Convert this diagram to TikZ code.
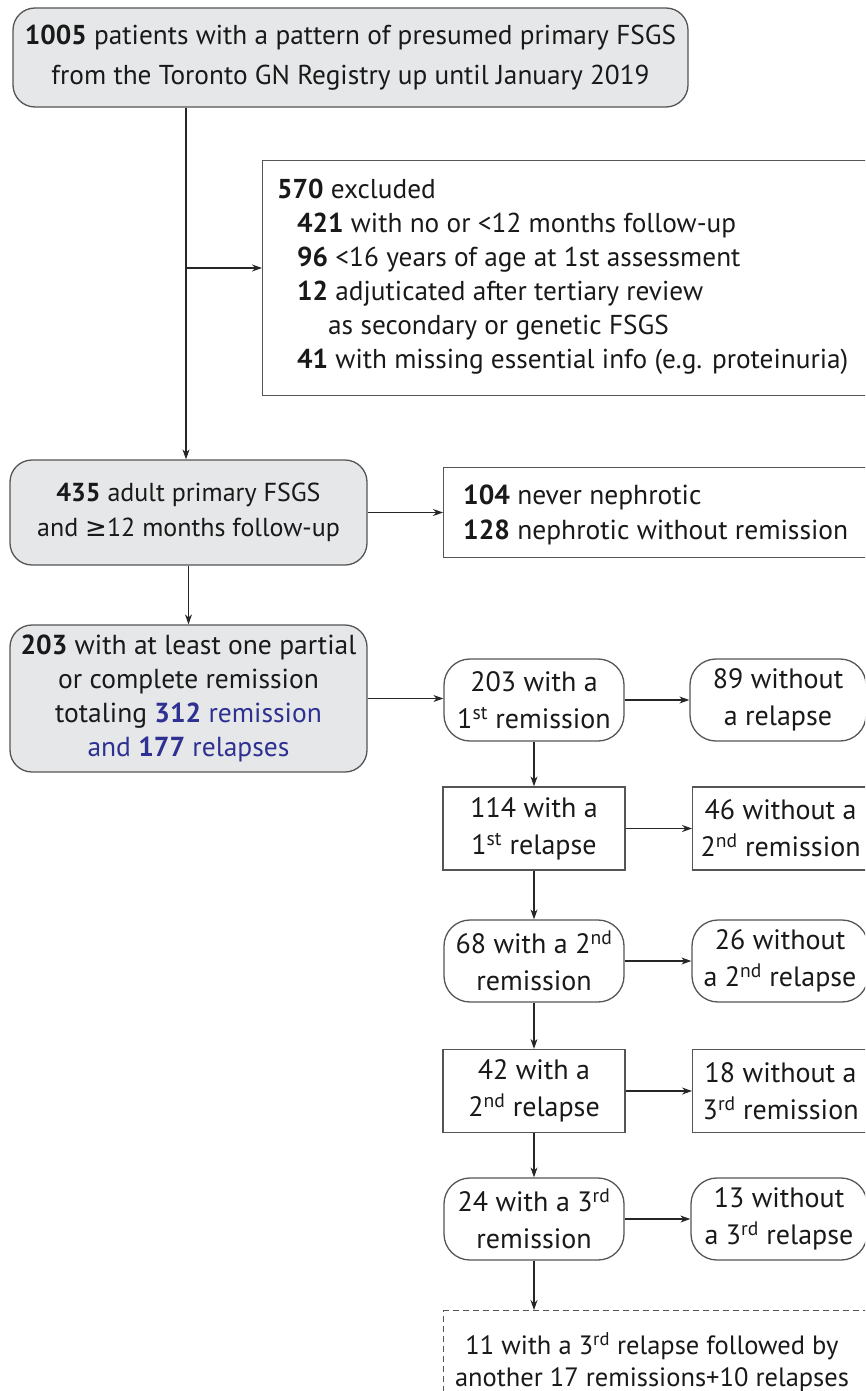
\documentclass[tikz,border=0pt]{standalone}
\usepackage{fontspec}
\setmainfont{PT Sans}
\newfontfamily\symf{DejaVu Sans}
\usetikzlibrary{arrows.meta}
\definecolor{boxgrey}{RGB}{230,231,232}
\definecolor{linegrey}{RGB}{85,85,85}
\definecolor{txtblue}{RGB}{46,49,146}
\begin{document}
\begin{tikzpicture}[x=1pt,y=-1pt,
  box/.style={draw=linegrey, line width=1.3pt, align=center, inner sep=0pt,
    font=\fontsize{28}{37}\selectfont, text=black!90},
  greybox/.style={box, fill=boxgrey, rounded corners=22pt},
  roundbox/.style={box, rounded corners=26pt, minimum height=82pt},
  rectbox/.style={box, minimum height=83pt},
  dashbox/.style={box, dash pattern=on 6pt off 4pt},
  arr/.style={-{Stealth[length=10pt,width=7pt]}, line width=1.1pt, draw=black!85}]
\useasboundingbox (0,0) rectangle (865,1391);
\clip (0,0) rectangle (865,1391);
% top
\node[greybox, minimum width=675pt, minimum height=99pt, font=\fontsize{27.3}{40}\selectfont] (top) at (350.5,57.5)
  {\textbf{1005} patients with a pattern of presumed primary FSGS\\from the Toronto GN Registry up until January 2019};
% excluded
\node[box, minimum width=620pt, minimum height=235pt, anchor=north west] (excl) at (262,160) {};
\node[anchor=north west, align=left, inner sep=0pt, font=\fontsize{27.3}{34}\selectfont, text=black!90] (excltxt) at (277,179)
  {\textbf{570} excluded\\
   \hspace*{20pt}\textbf{421} with no or <12 months follow-up\\
   \hspace*{20pt}\textbf{96} <16 years of age at 1st assessment\\
   \hspace*{20pt}\textbf{12} adjuticated after tertiary review\\
   \hspace*{51pt}as secondary or genetic FSGS\\
   \hspace*{20pt}\textbf{41} with missing essential info (e.g. proteinuria)};
% 435
\node[greybox, minimum width=357pt, minimum height=105pt, font=\fontsize{26}{35}\selectfont] (a435) at (188.5,512.5)
  {\textbf{435} adult primary FSGS\\and {\symf ≥}12 months follow-up};
\node[box, minimum width=440pt, minimum height=90pt, anchor=north west] (nn) at (443,467) {};
\node[anchor=west, align=left, inner sep=0pt, font=\fontsize{27.5}{35}\selectfont, text=black!90] (nntxt) at (463,515)
  {\textbf{104} never nephrotic\\\textbf{128} nephrotic without remission};
% 203
\node[greybox, minimum width=357pt, minimum height=147pt, font=\fontsize{27.5}{34}\selectfont] (r203) at (188.5,698.5)
  {\textbf{203} with at least one partial\\or complete remission\\totaling {\color{txtblue}\textbf{312} remission}\\{\color{txtblue}and \textbf{177} relapses}};
% chain
\node[roundbox, minimum width=180pt] (rem1) at (534,700) {203 with a\\1\textsuperscript{st} remission};
\node[roundbox, minimum width=176pt] (norel1) at (778,700) {89 without\\a relapse};
\node[rectbox, minimum width=182pt] (rel1) at (534,828.5) {114 with a\\1\textsuperscript{st} relapse};
\node[rectbox, minimum width=190pt, anchor=west] (norem2) at (692,828.5) {\hspace*{-14pt}46 without a\\\hspace*{-14pt}2\textsuperscript{nd} remission};
\node[roundbox, minimum width=180pt] (rem2) at (534,961) {68 with a 2\textsuperscript{nd}\\remission};
\node[roundbox, minimum width=176pt] (norel2) at (780,961) {26 without\\a 2\textsuperscript{nd} relapse};
\node[rectbox, minimum width=182pt] (rel2) at (534,1091) {42 with a\\2\textsuperscript{nd} relapse};
\node[rectbox, minimum width=190pt, anchor=west] (norem3) at (692,1091) {\hspace*{-14pt}18 without a\\\hspace*{-14pt}3\textsuperscript{rd} remission};
\node[roundbox, minimum width=180pt] (rem3) at (534,1219) {24 with a 3\textsuperscript{rd}\\remission};
\node[roundbox, minimum width=176pt] (norel3) at (779,1219) {13 without\\a 3\textsuperscript{rd} relapse};
\node[dashbox, minimum width=440pt, minimum height=95pt, anchor=north west] (last) at (443,1310) {};
\node[inner sep=0pt, align=center, font=\fontsize{26.5}{32}\selectfont, text=black!90] (lasttxt) at (652,1362)
  {11 with a 3\textsuperscript{rd} relapse followed by\\another 17 remissions+10 relapses};
% connectors
\coordinate (br) at (186,268);
\draw[arr] (top.south -| br) -- (a435.north -| br);
\draw[arr] (br) -- (br -| excl.west);
\draw[arr] (a435.east) -- (a435.east -| nn.west);
\draw[arr] (a435.south) -- (r203.north);
\draw[arr] (r203.east) -- (r203.east -| rem1.west);
\draw[arr] (rem1.east) -- (norel1.west);
\draw[arr] (rem1.south) -- (rel1.north);
\draw[arr] (rel1.east) -- (norem2.west);
\draw[arr] (rel1.south) -- (rem2.north);
\draw[arr] (rem2.east) -- (norel2.west);
\draw[arr] (rem2.south) -- (rel2.north);
\draw[arr] (rel2.east) -- (norem3.west);
\draw[arr] (rel2.south) -- (rem3.north);
\draw[arr] (rem3.east) -- (norel3.west);
\draw[arr] (rem3.south) -- (rem3.south |- last.north);
\end{tikzpicture}
\end{document}
